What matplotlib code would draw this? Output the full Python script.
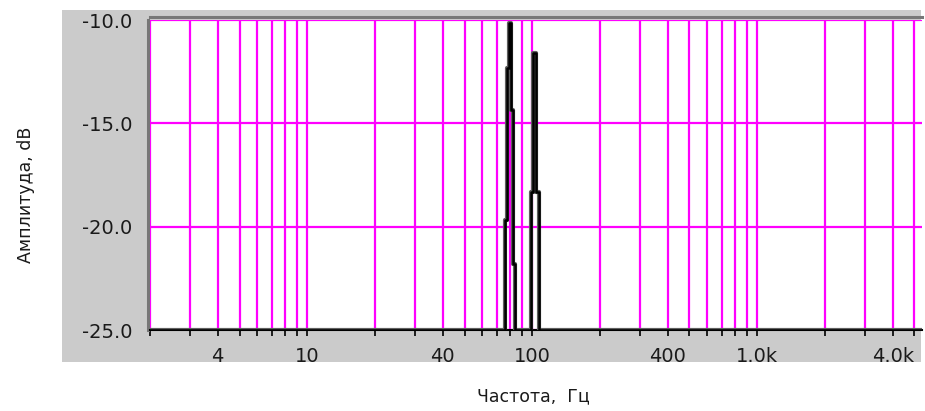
import matplotlib.pyplot as plt
from matplotlib.patches import Rectangle
from matplotlib.ticker import FixedLocator, NullFormatter

# spectrum, drawn as steps (value held until next frequency)
freq = [2, 75.9, 77.4, 79.0, 80.7, 81.9, 83.6, 99.0, 100.5, 103.6, 107.4, 5400]
amp = [-25, -19.7, -12.3, -10.15, -14.35, -21.8, -25, -18.3, -11.6, -18.3, -25, -25]

x_ticks = [4, 10, 40, 100, 400, 1000, 4000]
x_labels = ["4", "10", "40", "100", "400", "1.0k", "4.0k"]
y_ticks = [-25, -20, -15, -10]
y_labels = ["-25.0", "-20.0", "-15.0", "-10.0"]

fig = plt.figure(figsize=(9.25, 4.11), dpi=100)
fig.patch.set_facecolor("white")

# grey panel behind the plot
fig.patches.append(Rectangle((62 / 925, 1 - 362 / 411), (921 - 62) / 925, 352 / 411,
                             transform=fig.transFigure, facecolor="#cbcbcb",
                             edgecolor="none", zorder=-5))

ax = fig.add_axes([150 / 925, 1 - 330 / 411, 772 / 925, 310 / 411])
ax.set_zorder(2)
ax.set_facecolor("white")
ax.set_xscale("log")
ax.set_xlim(2, 5400)
ax.set_ylim(-25, -10)

minor = [m * d for d in (1, 10, 100, 1000) for m in range(2, 10)]
minor = [v for v in minor if v not in x_ticks and v < 5400]
ax.xaxis.set_major_locator(FixedLocator(x_ticks))
ax.xaxis.set_minor_locator(FixedLocator(minor))
ax.xaxis.set_minor_formatter(NullFormatter())
ax.set_xticklabels(x_labels)
ax.set_yticks(y_ticks)
ax.set_yticklabels(y_labels)

ax.grid(True, which="both", axis="x", color="#ff00ff", lw=1.6)
ax.grid(True, which="major", axis="y", color="#ff00ff", lw=1.6)
ax.set_axisbelow(True)

ax.step(freq, amp, where="post", color="#606060", lw=3.0, zorder=3)
ax.step(freq, amp, where="post", color="black", lw=1.8, zorder=4)

ax.tick_params(axis="x", which="both", direction="out", length=4, width=1.2,
               color="black", pad=8, labelsize=14, labelcolor="#1a1a1a")
ax.tick_params(axis="y", length=0, pad=11, labelsize=14, labelcolor="#1a1a1a")

ax.spines["right"].set_visible(False)
for side in ("top", "left"):
    ax.spines[side].set_color("#777777")
    ax.spines[side].set_linewidth(2.2)
    ax.spines[side].set_position(("outward", 1.8))
ax.spines["bottom"].set_color("black")
ax.spines["bottom"].set_linewidth(1.5)

ax.set_xlabel("Частота,  Гц", fontsize=12.5, color="#1a1a1a", va="center")
ax.xaxis.set_label_coords(0.497, -0.213)
ax.set_ylabel("Амплитуда, dB", fontsize=12.5, color="#1a1a1a", va="center")
ax.yaxis.set_label_coords(-0.16, 0.435)

fig.savefig("out.png", dpi=100)
